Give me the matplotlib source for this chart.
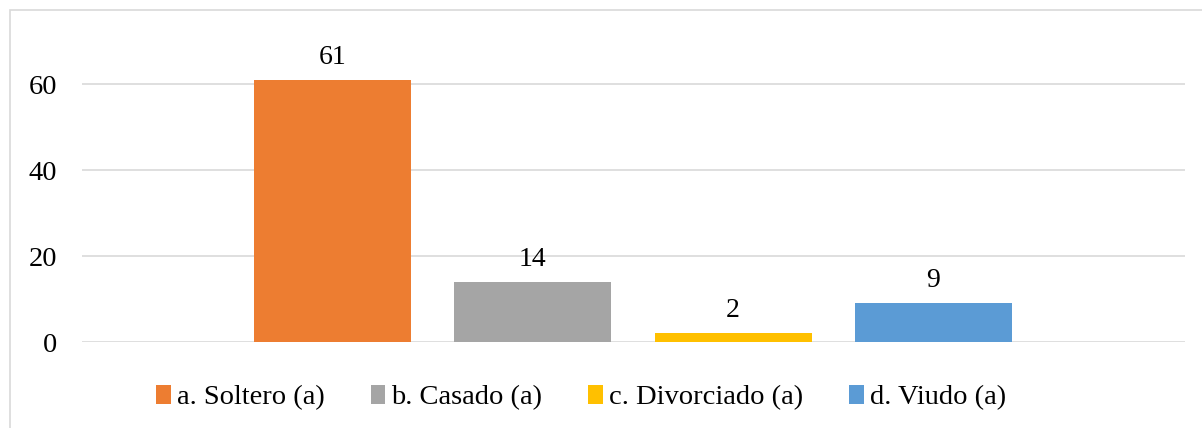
import matplotlib
matplotlib.use("Agg")
import matplotlib.pyplot as plt
from matplotlib.patches import Rectangle

categories = ["a. Soltero (a)", "b. Casado (a)", "c. Divorciado (a)", "d. Viudo (a)"]
values = [61, 14, 2, 9]
colors = ["#ED7D31", "#A5A5A5", "#FFC000", "#5B9BD5"]
yticks = [0, 20, 40, 60]

plt.rcParams['font.family'] = ['Liberation Serif', 'DejaVu Serif']

W, H = 1202, 428
fig = plt.figure(figsize=(W / 100, H / 100), dpi=100)
ax = fig.add_axes([82 / W, 1 - 342 / H, (1185 - 82) / W, (342 - 41) / H])

# chart border
fig.patches.append(Rectangle((10 / W, -0.1), 1.2, 1 - 10 / H + 0.1, transform=fig.transFigure,
                             fill=False, edgecolor="#D9D9D9", linewidth=1.2))

xs = list(range(len(values)))
bars = ax.bar(xs, values, width=0.785, color=colors, label=categories, zorder=3)
for x, v in zip(xs, values):
    ax.annotate(str(v), (x, v), xytext=(0, 11.5), textcoords="offset points",
                ha="center", va="baseline", fontsize=20, color="#000000")

ax.set_xlim(-1.2525, 3 + 1.2575)
ax.set_ylim(0, 70)
ax.set_yticks(yticks)
ax.set_yticklabels([str(t) for t in yticks], fontsize=20.5)
ax.tick_params(axis="y", length=0, pad=18)
ax.set_xticks([])
for s in ax.spines.values():
    s.set_visible(False)
for t in yticks:
    ax.axhline(t, color="#D9D9D9", linewidth=1.2, zorder=1)

leg = fig.legend(handles=bars, labels=categories, loc="center", bbox_to_anchor=(581 / W, 1 - 398 / H),
                 ncol=4, frameon=False, fontsize=20.5, handlelength=0.52, handleheight=0.6,
                 handletextpad=0.2, columnspacing=1.62)

fig.savefig("out.png", dpi=100)
